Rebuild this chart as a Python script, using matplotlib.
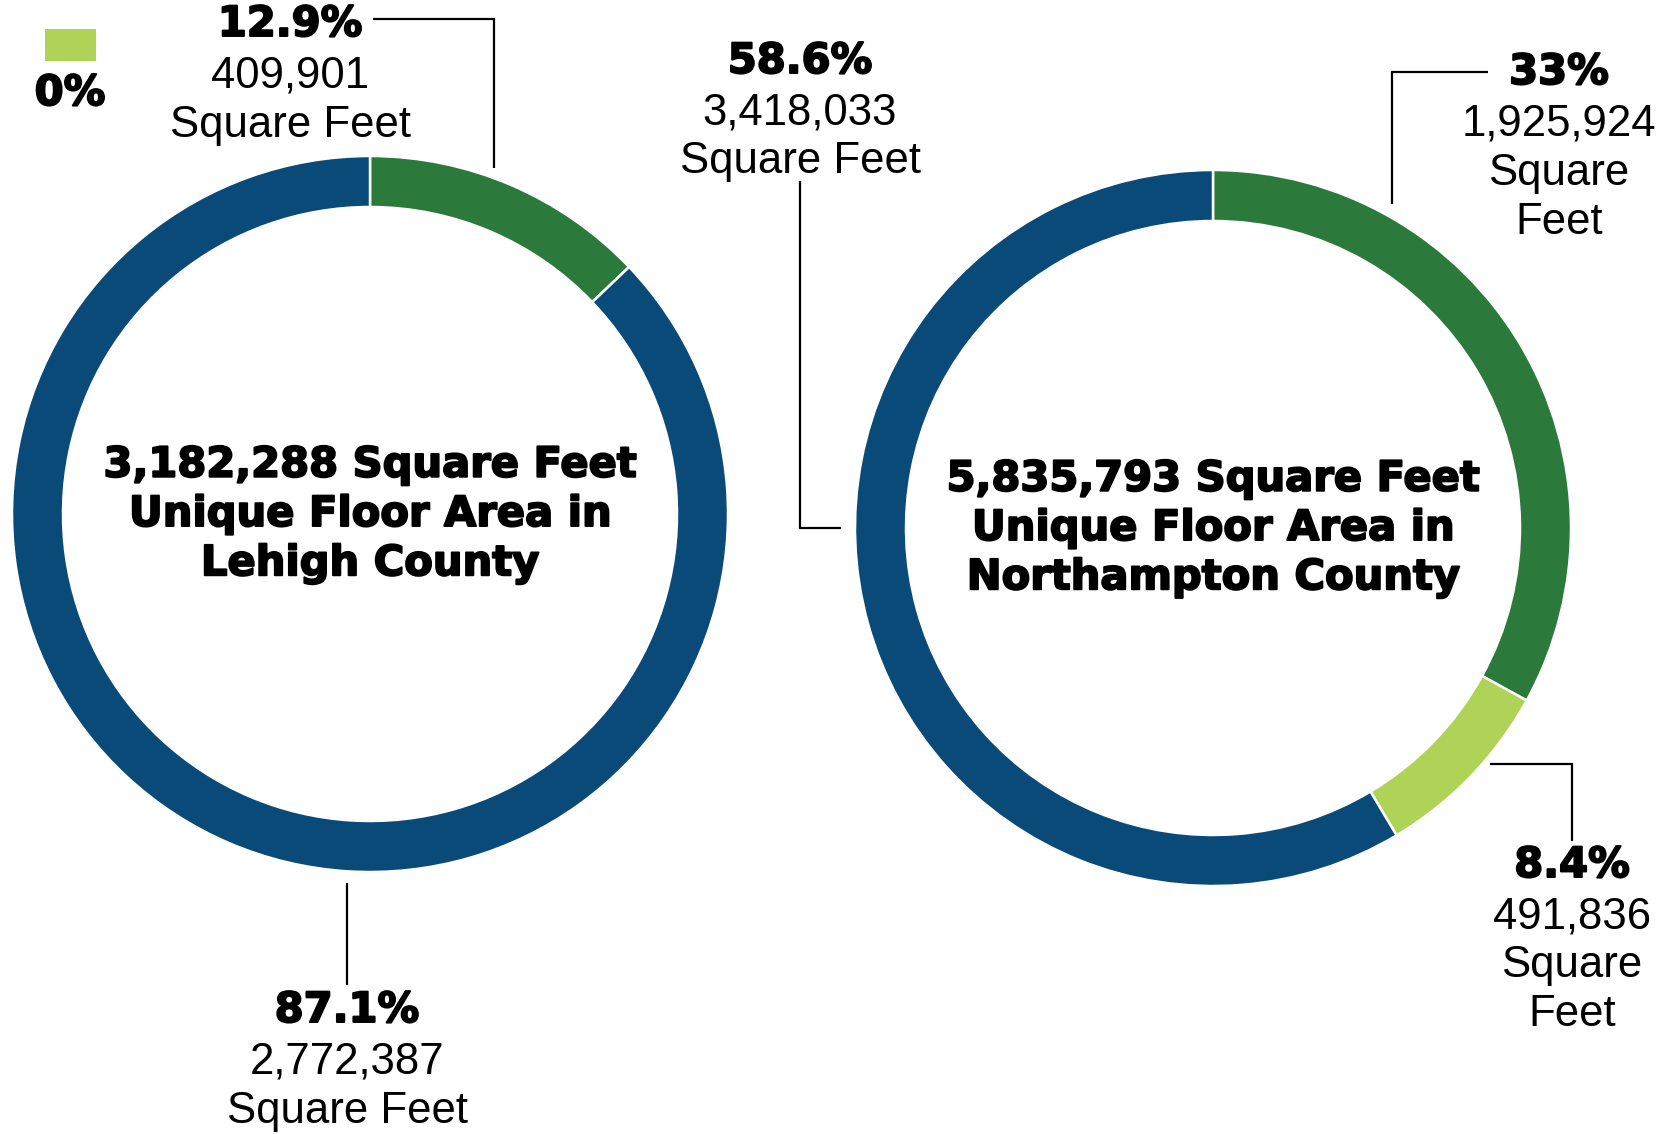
import matplotlib.pyplot as plt
import matplotlib.patheffects as pe

# data
lehigh_labels = ["Green", "Light green", "Blue"]
lehigh_sqft = [409901, 0, 2772387]
lehigh_pct = ["12.9%", "0%", "87.1%"]
lehigh_total = "3,182,288"

north_labels = ["Green", "Light green", "Blue"]
north_sqft = [1925924, 491836, 3418033]
north_pct = ["33%", "8.4%", "58.6%"]
north_total = "5,835,793"

colors = ["#2B7A3B", "#AED356", "#0A4A79"]

W, H = 1669, 1134
fig = plt.figure(figsize=(W / 100, H / 100), dpi=100)
ax = fig.add_axes([0, 0, 1, 1])


def Y(y):
    # pixel-from-top to data y
    return H - y


heavy = [pe.withStroke(linewidth=1.4, foreground="black")]
BOLD = dict(family="DejaVu Sans", fontweight="bold", path_effects=heavy)
NORM = dict(family="Liberation Sans")
R = 358
RING = 51

# donuts
for vals, cx, cy in [(lehigh_sqft, 370, 514), (north_sqft, 1213, 528)]:
    ax.pie(vals, colors=colors, startangle=90, counterclock=False,
           center=(cx, Y(cy)), radius=R,
           wedgeprops=dict(width=RING, edgecolor="white", linewidth=1.8))

# center titles
for name, total, cx, cy in [("Lehigh County", lehigh_total, 370, 514),
                            ("Northampton County", north_total, 1213, 528)]:
    txt = total + " Square Feet\nUnique Floor Area in\n" + name
    ax.text(cx, Y(cy), txt, ha="center", va="center", fontsize=30,
            linespacing=1.22, **BOLD)


def label(x, y, pct, lines):
    ax.text(x, Y(y), pct, ha="center", va="center", fontsize=30, **BOLD)
    for i, s in enumerate(lines):
        ax.text(x, Y(y + 52 + 49 * i), s, ha="center", va="center",
                fontsize=31.5, **NORM)


def leader(xs, ys):
    ax.plot(xs, [Y(v) for v in ys], color="black", lw=1.6,
            solid_capstyle="butt", solid_joinstyle="miter")


# Lehigh labels
label(290, 24, lehigh_pct[0], [f"{lehigh_sqft[0]:,}", "Square Feet"])
leader([373, 494, 494], [19, 19, 168])
label(347, 1010, lehigh_pct[2], [f"{lehigh_sqft[2]:,}", "Square Feet"])
leader([347, 347], [883, 985])

# 0% legend swatch
ax.add_patch(plt.Rectangle((45, Y(61)), 51, 32, color=colors[1], lw=0))
ax.text(70, Y(93), lehigh_pct[1], ha="center", va="center", fontsize=30, **BOLD)

# Northampton labels
label(800, 61, north_pct[2], [f"{north_sqft[2]:,}", "Square Feet"])
leader([800, 800, 841], [181, 528, 528])
label(1559, 72, north_pct[0], [f"{north_sqft[0]:,}", "Square", "Feet"])
leader([1488, 1392, 1392], [72, 72, 204])
label(1572, 865, north_pct[1], [f"{north_sqft[1]:,}", "Square", "Feet"])
leader([1490, 1572, 1572], [764, 764, 841])

ax.set_xlim(0, W)
ax.set_ylim(0, H)
ax.set_aspect("auto")
ax.axis("off")

fig.savefig("out.png", dpi=100, facecolor="white")
